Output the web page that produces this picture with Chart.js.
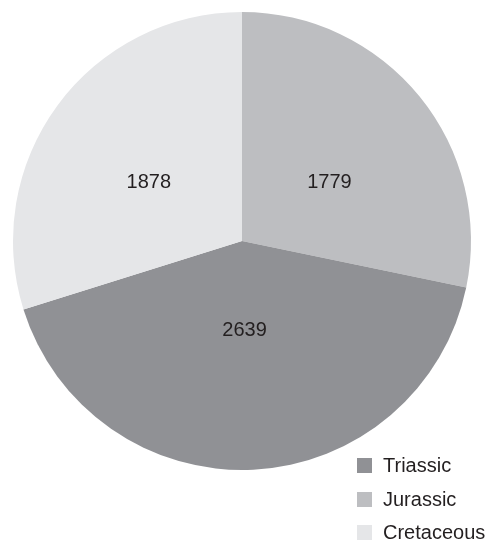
<!DOCTYPE html>
<html>
<head>
<meta charset="utf-8">
<script src="https://cdn.jsdelivr.net/npm/chart.js@4/dist/chart.umd.min.js"></script>
<style>
  html, body { margin: 0; padding: 0; background: #fff; }
  #wrap { position: relative; width: 493px; height: 543px; }
  #legend { position: absolute; left: 357px; top: 449px; font: 20px "Liberation Sans", Arial, sans-serif; color: #231f20; }
  #legend div { height: 33.5px; display: flex; align-items: center; }
  #legend span.box { width: 15px; height: 15px; margin-right: 11px; display: inline-block; }
</style>
</head>
<body>
<div id="wrap">
  <canvas id="chart" width="493" height="543"></canvas>
  <div id="legend"></div>
</div>
<script>
// slices in drawing order, clockwise from 12 o'clock
var periods = ['Jurassic', 'Triassic', 'Cretaceous'];
var counts = [1779, 2639, 1878];
var colors = ['#bdbec1', '#909195', '#e5e6e8'];
var legendOrder = ['Triassic', 'Jurassic', 'Cretaceous'];

// value label placement: fraction of radius, and a nudge off the mid-angle (degrees)
var labelRadius = [0.46, 0.39, 0.48];
var labelTurn = [5.3, 1.2, -4.3];

var sliceLabels = {
    id: 'sliceLabels',
    afterDatasetsDraw: function(chart) {
        var ctx = chart.ctx;
        var meta = chart.getDatasetMeta(0);
        ctx.save();
        ctx.font = '20px "Liberation Sans", Arial, sans-serif';
        ctx.fillStyle = '#231f20';
        ctx.textAlign = 'center';
        ctx.textBaseline = 'middle';
        meta.data.forEach(function(arc, i) {
            var mid = (arc.startAngle + arc.endAngle) / 2 + labelTurn[i] * Math.PI / 180;
            var r = arc.outerRadius * labelRadius[i];
            ctx.fillText(String(counts[i]), arc.x + Math.cos(mid) * r, arc.y + Math.sin(mid) * r);
        });
        ctx.restore();
    }
};

var ctx = document.getElementById('chart').getContext('2d');
var myChart = new Chart(ctx, {
    type: 'pie',
    data: {
        labels: periods,
        datasets: [{
            data: counts,
            backgroundColor: colors,
            borderWidth: 0
        }]
    },
    options: {
        responsive: false,
        animation: false,
        layout: { padding: { left: 13, top: 12, right: 22, bottom: 73 } },
        plugins: {
            legend: { display: false },
            tooltip: { enabled: false }
        }
    },
    plugins: [sliceLabels]
});

var legend = document.getElementById('legend');
legendOrder.forEach(function(name) {
    var i = periods.indexOf(name);
    var row = document.createElement('div');
    var box = document.createElement('span');
    box.className = 'box';
    box.style.background = colors[i];
    row.appendChild(box);
    row.appendChild(document.createTextNode(name));
    legend.appendChild(row);
});
</script>
</body>
</html>
